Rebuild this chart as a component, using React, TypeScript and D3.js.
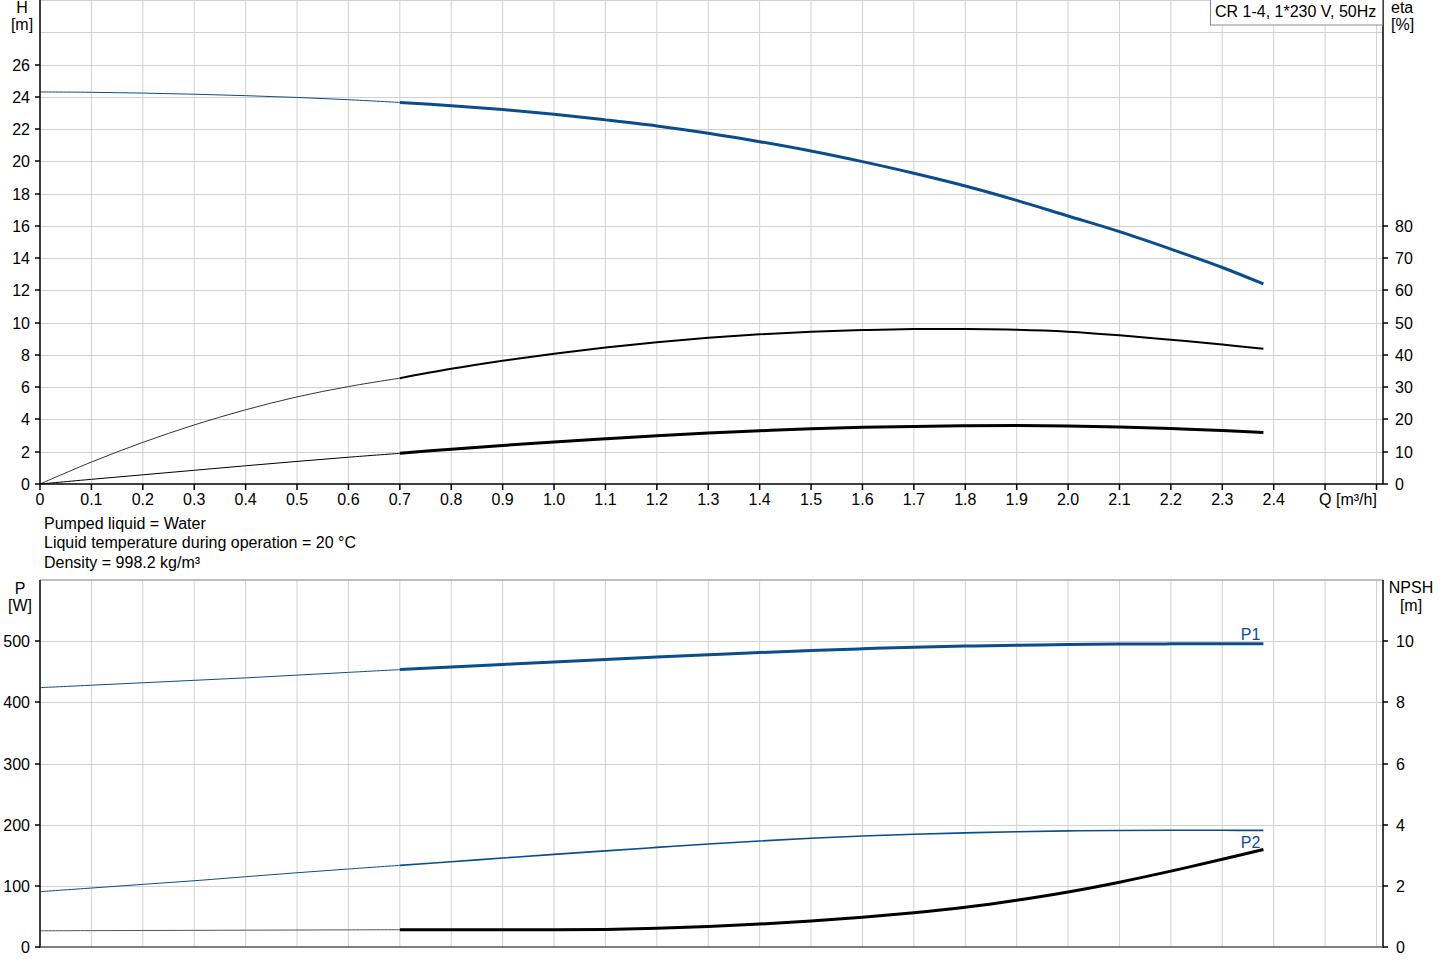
import * as d3 from "d3";

// flow points (m³/h)
const qFlow = [0, 0.1, 0.2, 0.3, 0.4, 0.5, 0.6, 0.7, 0.8, 0.9, 1.0, 1.1, 1.2, 1.3, 1.4, 1.5, 1.6, 1.7, 1.8, 1.9, 2.0, 2.1, 2.2, 2.3, 2.38];

// head H [m]
const head = [24.3, 24.28, 24.23, 24.16, 24.07, 23.96, 23.82, 23.65, 23.45, 23.21, 22.92, 22.57, 22.19, 21.74, 21.22, 20.64, 19.98, 19.26, 18.47, 17.58, 16.61, 15.64, 14.56, 13.42, 12.4];
// pump efficiency [%]
const etaPump = [0, 6.8, 12.9, 18.3, 23.0, 27.0, 30.2, 32.8, 35.7, 38.2, 40.4, 42.3, 43.9, 45.3, 46.4, 47.2, 47.7, 48.0, 48.0, 47.8, 47.2, 46.1, 44.7, 43.2, 41.9];
// total efficiency [%]
const etaTotal = [0, 1.45, 2.85, 4.25, 5.65, 7.0, 8.3, 9.5, 10.8, 11.95, 13.0, 14.0, 14.95, 15.8, 16.5, 17.1, 17.55, 17.85, 18.05, 18.1, 17.98, 17.68, 17.2, 16.55, 15.95];
// power P1 / P2 [W]
const p1 = [424, 428, 432, 436, 440, 444.5, 449, 453.5, 457.7, 461.9, 466, 470, 474, 477.8, 481.4, 484.7, 487.6, 490, 491.9, 493.4, 494.5, 495.2, 495.6, 495.7, 495.6];
const p2 = [90.5, 96.4, 102.4, 108.3, 114.9, 121.4, 127.5, 133.5, 139.4, 145.5, 151.5, 157.2, 162.8, 168.3, 173.3, 177.7, 181.4, 184.3, 186.6, 188.5, 189.8, 190.5, 190.8, 190.8, 190.6];
// NPSH [m]
const npsh = [0.53, 0.535, 0.54, 0.545, 0.55, 0.555, 0.56, 0.565, 0.565, 0.563, 0.56, 0.575, 0.61, 0.67, 0.75, 0.85, 0.97, 1.12, 1.3, 1.53, 1.8, 2.12, 2.48, 2.87, 3.19];

const qTicks = d3.range(0, 27).map((i) => i / 10);
const hTicks = [0, 2, 4, 6, 8, 10, 12, 14, 16, 18, 20, 22, 24, 26];
const etaTicks = [0, 10, 20, 30, 40, 50, 60, 70, 80];
const pTicks = [0, 100, 200, 300, 400, 500];
const npshTicks = [0, 2, 4, 6, 8, 10];
const infoLines = ["Pumped liquid = Water", "Liquid temperature during operation = 20 °C", "Density = 998.2 kg/m³"];
const title = "CR 1-4, 1*230 V, 50Hz";

const BLUE = "#0a4d8c";
const GRID = "#d2d2d2";
const FONT = "'Liberation Sans', Arial, sans-serif";

const left = 40;
const right = 1383;

export default function App() {
  const x = d3.scaleLinear().domain([0, 2.6]).range([left, 1376.5]);
  const yH = d3.scaleLinear().domain([0, 30]).range([484, 0]);
  const yEta = d3.scaleLinear().domain([0, 150]).range([484, 0]);
  const yP = d3.scaleLinear().domain([0, 600]).range([947, 580]);
  const yN = d3.scaleLinear().domain([0, 12]).range([947, 580]);

  // thin part up to 0.7, thick part from 0.7 on
  const split = (vals: number[]) => {
    const pts = qFlow.map((q, i) => [q, vals[i]] as [number, number]);
    return { thin: pts.filter((p) => p[0] <= 0.7), thick: pts.filter((p) => p[0] >= 0.7) };
  };
  const path = (pts: [number, number][], y: d3.ScaleLinear<number, number>) =>
    d3
      .line<[number, number]>()
      .x((d) => x(d[0]))
      .y((d) => y(d[1]))
      .curve(d3.curveCatmullRom.alpha(0.5))(pts) || "";

  const curve = (vals: number[], y: d3.ScaleLinear<number, number>, color: string, thinW: number, thickW: number, thinColor?: string) => {
    const s = split(vals);
    return (
      <g fill="none" strokeLinecap="butt">
        <path d={path(s.thin, y)} stroke={thinColor || color} strokeWidth={thinW} />
        <path d={path(s.thick, y)} stroke={color} strokeWidth={thickW} />
      </g>
    );
  };

  const last = qFlow.length - 1;

  return (
    <svg width={1442} height={970} style={{ position: "absolute", left: 0, top: 0 }} fontFamily={FONT} fontSize={16}>
      <rect width={1442} height={970} fill="#fff" />

      {/* ---------- top chart ---------- */}
      <g stroke={GRID} strokeWidth={1}>
        {qTicks.slice(1).map((q) => (
          <line key={"tv" + q} x1={x(q)} x2={x(q)} y1={0} y2={484} />
        ))}
        {d3.range(2, 31, 2).map((h) => (
          <line key={"th" + h} x1={left} x2={right} y1={Math.round(yH(h)) + 0.5} y2={Math.round(yH(h)) + 0.5} />
        ))}
      </g>

      {curve(head, yH, BLUE, 1, 3)}
      {curve(etaPump, yEta, "#000", 0.8, 2)}
      {curve(etaTotal, yEta, "#000", 1, 3)}

      <g stroke="#000" strokeWidth={1.5}>
        <line x1={left} x2={left} y1={0} y2={484} />
        <line x1={right} x2={right} y1={0} y2={484} />
        <line x1={left} x2={right} y1={484} y2={484} />
        {hTicks.map((h) => (
          <line key={"hk" + h} x1={35} x2={left} y1={Math.round(yH(h))} y2={Math.round(yH(h))} />
        ))}
        {etaTicks.map((e) => (
          <line key={"ek" + e} x1={right} x2={right + 5} y1={Math.round(yEta(e))} y2={Math.round(yEta(e))} />
        ))}
        {qTicks.map((q) => (
          <line key={"qk" + q} x1={x(q)} x2={x(q)} y1={484} y2={490} />
        ))}
      </g>

      <g fill="#000">
        {hTicks.map((h) => (
          <text key={"hl" + h} x={30} y={yH(h) + 6} textAnchor="end">{h}</text>
        ))}
        {etaTicks.map((e) => (
          <text key={"el" + e} x={1395} y={yEta(e) + 6}>{e}</text>
        ))}
        {qTicks.filter((q) => q <= 2.4).map((q) => (
          <text key={"ql" + q} x={x(q)} y={505} textAnchor="middle">{q === 0 ? "0" : q.toFixed(1)}</text>
        ))}
        <text x={1348} y={505} textAnchor="middle">Q [m³/h]</text>
        <text x={22} y={13} textAnchor="middle">H</text>
        <text x={22} y={30} textAnchor="middle">[m]</text>
        <text x={1391} y={13}>eta</text>
        <text x={1391} y={30}>[%]</text>
        {infoLines.map((t, i) => (
          <text key={t} x={44} y={528.5 + i * 19.5}>{t}</text>
        ))}
      </g>

      <rect x={1210.5} y={-1} width={172} height={26} fill="#fff" stroke="#8a8a8a" strokeWidth={1} />
      <text x={1215} y={17}>{title}</text>

      {/* ---------- bottom chart ---------- */}
      <g stroke={GRID} strokeWidth={1}>
        {qTicks.slice(1).map((q) => (
          <line key={"bv" + q} x1={x(q)} x2={x(q)} y1={580} y2={947} />
        ))}
        {[100, 200, 300, 400, 500].map((p) => (
          <line key={"bh" + p} x1={left} x2={right} y1={Math.round(yP(p)) + 0.5} y2={Math.round(yP(p)) + 0.5} />
        ))}
      </g>
      <line x1={left} x2={right} y1={580} y2={580} stroke="#a8a8a8" strokeWidth={1.5} />

      {curve(p1, yP, BLUE, 1, 3)}
      {curve(p2, yP, BLUE, 1, 1.6)}
      {curve(npsh, yN, "#000", 1, 3, "#555")}

      <g stroke="#000" strokeWidth={1.5}>
        <line x1={left} x2={left} y1={580} y2={948} />
        <line x1={right} x2={right} y1={580} y2={948} />
        {pTicks.map((p) => (
          <line key={"pk" + p} x1={35} x2={left} y1={Math.round(yP(p))} y2={Math.round(yP(p))} />
        ))}
        {npshTicks.map((n) => (
          <line key={"nk" + n} x1={right} x2={right + 5} y1={Math.round(yN(n))} y2={Math.round(yN(n))} />
        ))}
      </g>
      <line x1={left} x2={right} y1={947} y2={947} stroke="#555" strokeWidth={1.5} />

      <g fill="#000">
        {pTicks.map((p) => (
          <text key={"pl" + p} x={30} y={yP(p) + 6} textAnchor="end">{p}</text>
        ))}
        {npshTicks.map((n) => (
          <text key={"nl" + n} x={1396} y={yN(n) + 6}>{n}</text>
        ))}
        <text x={20} y={594} textAnchor="middle">P</text>
        <text x={20} y={611} textAnchor="middle">[W]</text>
        <text x={1411} y={593} textAnchor="middle">NPSH</text>
        <text x={1411} y={611} textAnchor="middle">[m]</text>
      </g>
      <text x={x(qFlow[last]) - 3} y={yP(p1[last]) - 4} textAnchor="end" fill={BLUE}>P1</text>
      <text x={x(qFlow[last]) - 3} y={yP(p2[last]) + 18} textAnchor="end" fill={BLUE}>P2</text>
    </svg>
  );
}
